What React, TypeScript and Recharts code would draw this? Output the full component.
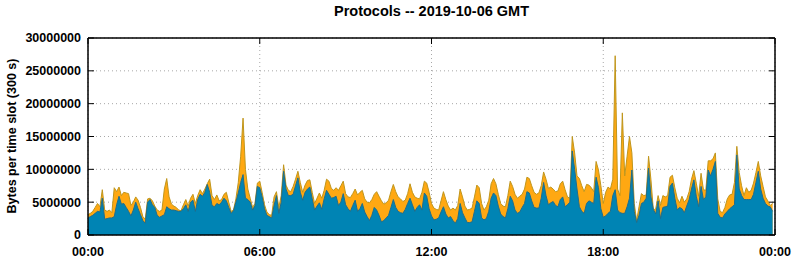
import { Area, AreaChart, CartesianGrid, ReferenceArea, XAxis, YAxis } from "recharts";

// bytes per 300 s slot, in millions; each list covers 6 hours (72 slots)
const totalNight = [
  3.1, 3.3, 3.6, 4.2, 4.8, 4.3, 6.9, 3.8, 3.6, 3.8, 3.4, 7.2,
  6.6, 7.3, 6.0, 6.5, 6.4, 6.3, 4.5, 5.0, 5.8, 5.3, 4.2, 2.8,
  2.4, 5.5, 5.6, 5.2, 4.4, 3.8, 3.6, 3.8, 7.0, 8.6, 5.8, 4.7,
  4.4, 4.2, 3.8, 3.7, 4.6, 5.4, 4.4, 5.6, 6.2, 4.8, 6.0, 6.9,
  6.3, 7.0, 7.8, 8.5, 6.0, 5.4, 6.1, 5.2, 5.4, 6.2, 6.5, 5.0,
  3.6, 3.8, 5.5, 8.0, 12.0, 17.8, 10.0, 7.0, 5.6, 4.2, 4.8, 7.9,
];
const totalMorning = [
  8.2, 6.5, 4.6, 3.5, 3.1, 3.0, 5.8, 6.6, 4.2, 6.0, 10.7, 7.6,
  6.8, 6.6, 7.4, 8.5, 9.7, 8.0, 6.5, 7.6, 8.3, 8.4, 6.5, 4.8,
  5.6, 6.4, 5.6, 6.8, 8.5, 8.2, 7.1, 6.8, 7.2, 6.8, 7.5, 8.2,
  6.3, 5.8, 5.7, 6.3, 7.0, 6.1, 6.5, 6.8, 5.5, 5.0, 4.9, 5.4,
  6.2, 6.6, 5.9, 5.2, 4.7, 4.9, 5.3, 6.6, 7.7, 6.6, 5.8, 5.5,
  5.1, 5.3, 6.3, 7.8, 6.5, 5.8, 5.6, 5.5, 6.5, 8.2, 7.9, 6.5,
];
const totalAfternoon = [
  4.8, 4.1, 3.9, 3.8, 5.2, 6.6, 5.4, 4.4, 3.8, 4.1, 3.8, 4.5,
  7.0, 5.8, 4.4, 3.8, 3.9, 4.1, 5.8, 7.6, 7.2, 4.8, 3.8, 4.3,
  5.3, 7.8, 8.6, 7.8, 6.2, 4.8, 4.4, 4.3, 6.0, 8.2, 7.4, 6.2,
  5.6, 5.9, 6.2, 7.0, 8.8, 8.6, 7.5, 6.5, 6.2, 6.4, 7.5, 9.6,
  8.5, 7.1, 7.3, 7.0, 6.6, 6.7, 7.8, 8.2, 6.9, 5.8, 5.6, 15.0,
  12.5, 9.0, 8.6, 7.5, 6.6, 7.7, 7.6, 7.2, 6.6, 11.2, 9.9, 7.5,
];
const totalEvening = [
  4.8, 6.5, 7.3, 7.0, 8.5, 27.3, 7.0, 6.0, 18.6, 9.0, 12.0, 15.0,
  12.5, 4.8, 2.2, 4.3, 6.3, 6.0, 6.1, 12.0, 8.4, 3.8, 4.0, 6.0,
  4.5, 6.0, 5.8, 6.0, 8.8, 9.1, 7.2, 5.6, 4.9, 5.9, 5.0, 5.5,
  6.6, 8.5, 9.8, 7.9, 5.9, 9.4, 6.9, 6.8, 11.3, 11.3, 11.6, 12.5,
  5.5, 3.6, 3.4, 4.2, 5.5, 6.1, 6.2, 8.0, 13.5, 9.5, 7.5, 6.0,
  7.2, 6.5, 6.8, 7.9, 9.5, 11.2, 9.0, 7.4, 5.8, 5.2, 4.5, 4.8,
];

const innerNight = [
  2.6, 2.8, 3.0, 3.3, 3.6, 3.5, 5.6, 2.4, 2.5, 2.6, 2.6, 2.8,
  4.6, 5.9, 4.7, 4.8, 4.2, 3.6, 2.9, 3.8, 5.0, 4.0, 3.1, 2.2,
  1.8, 5.0, 5.4, 4.6, 4.2, 3.0, 2.7, 2.9, 3.1, 4.3, 4.0, 3.8,
  3.8, 3.7, 3.6, 3.6, 4.0, 4.6, 3.6, 5.0, 5.3, 3.6, 5.4, 6.2,
  5.9, 6.5, 7.7, 6.5, 4.5, 4.3, 4.8, 4.6, 5.0, 5.6, 5.2, 4.2,
  3.3, 3.7, 5.0, 6.4, 8.0, 9.2, 5.6, 5.4, 5.0, 3.8, 4.5, 7.4,
];
const innerMorning = [
  7.2, 5.8, 4.0, 3.0, 2.8, 2.6, 4.5, 6.0, 3.3, 5.0, 9.7, 7.0,
  6.0, 6.0, 6.2, 7.5, 8.7, 6.5, 5.3, 6.5, 7.0, 7.3, 5.5, 3.8,
  4.4, 4.9, 3.9, 5.5, 6.8, 6.2, 5.6, 5.7, 5.9, 4.5, 5.0, 6.3,
  4.6, 4.0, 3.6, 4.5, 5.3, 3.6, 4.0, 4.8, 3.5, 2.8, 2.2, 3.0,
  4.2, 3.8, 3.0, 2.0, 2.2, 2.6, 3.0, 4.2, 5.4, 4.2, 3.6, 3.4,
  3.3, 3.9, 4.8, 5.6, 4.6, 3.6, 4.2, 4.6, 3.8, 6.4, 5.9, 4.0,
];
const innerAfternoon = [
  2.9, 2.3, 2.4, 2.6, 3.5, 4.3, 3.2, 2.6, 2.8, 2.2, 1.8, 2.5,
  4.8, 3.4, 2.6, 1.9, 1.9, 2.0, 3.6, 5.2, 4.8, 2.6, 2.3, 2.5,
  3.6, 5.6, 6.4, 6.0, 4.4, 3.2, 2.8, 2.6, 4.0, 5.9, 5.2, 3.8,
  3.3, 3.5, 4.2, 4.8, 6.6, 6.4, 5.2, 4.2, 4.1, 4.1, 5.6, 8.0,
  6.0, 4.6, 4.9, 5.1, 4.5, 4.3, 5.4, 5.8, 4.3, 4.6, 5.0, 12.8,
  10.0, 7.0, 4.3, 3.6, 3.3, 4.8, 5.2, 5.0, 4.8, 8.8, 7.2, 4.0,
];
const innerEvening = [
  2.7, 2.9, 3.3, 3.6, 6.0, 6.9, 3.8, 3.4, 3.3, 3.3, 4.3, 5.6,
  9.9, 3.6, 1.9, 3.0, 4.8, 5.0, 5.6, 10.2, 5.8, 3.9, 3.2, 5.2,
  2.5, 4.2, 4.3, 4.4, 7.4, 7.9, 5.6, 3.8, 4.2, 4.0, 3.4, 4.4,
  5.4, 7.0, 8.4, 5.9, 4.3, 7.4, 5.4, 5.8, 9.9, 9.0, 10.0, 11.2,
  3.3, 2.7, 2.6, 3.2, 3.6, 4.0, 4.3, 4.6, 12.2, 7.0, 6.0, 5.4,
  5.4, 5.4, 5.4, 6.2, 8.0, 9.7, 7.0, 5.6, 4.8, 4.4, 4.3, 3.6,
];

const xTicks = [0, 360, 720, 1080, 1440];
const xTickLabels = ["00:00", "06:00", "12:00", "18:00", "00:00"];
const yTicks = [0, 5000000, 10000000, 15000000, 20000000, 25000000, 30000000];

const MB = 1000000;
const SLOT_MIN = 5;

const totals = [...totalNight, ...totalMorning, ...totalAfternoon, ...totalEvening];
const inners = [...innerNight, ...innerMorning, ...innerAfternoon, ...innerEvening];
const rows = totals.map((v, i) => ({
  t: i * SLOT_MIN,
  total: v * MB,
  inner: inners[i] * MB,
}));

const FONT = '"Liberation Sans", Arial, Helvetica, sans-serif';
const tickStyle = { fontSize: 12.5, fontWeight: "bold", fill: "#000", fontFamily: FONT };
const noLabel = () => <g />;

export default function App() {
  return (
    <div style={{ position: "absolute", left: 0, top: 0, width: 795, height: 260, background: "#fff" }}>
      <div
        style={{
          position: "absolute",
          left: 88,
          top: 3,
          width: 687,
          textAlign: "center",
          fontFamily: FONT,
          fontWeight: "bold",
          fontSize: 14.5,
          lineHeight: "17px",
        }}
      >
        Protocols -- 2019-10-06 GMT
      </div>
      <div
        style={{
          position: "absolute",
          left: 12,
          top: 136,
          transform: "translate(-50%, -50%) rotate(-90deg)",
          whiteSpace: "nowrap",
          fontFamily: FONT,
          fontWeight: "bold",
          fontSize: 12.5,
        }}
      >
        Bytes per time slot (300 s)
      </div>
      <AreaChart width={795} height={260} data={rows} margin={{ top: 30, right: 12, bottom: 0, left: 0 }}>
        <CartesianGrid stroke="#a8a8a8" strokeDasharray="1 3" />
        <Area
          type="linear"
          dataKey="total"
          stroke="#c0961c"
          strokeWidth={1}
          fill="#ffa812"
          fillOpacity={1}
          dot={false}
          activeDot={false}
          isAnimationActive={false}
        />
        {/* same domains as the main axes; bound here so the mirror axes get drawn */}
        <Area
          type="linear"
          dataKey="inner"
          xAxisId="top"
          yAxisId="right"
          stroke="#1f6d8c"
          strokeWidth={1}
          fill="#0084b4"
          fillOpacity={1}
          dot={false}
          activeDot={false}
          isAnimationActive={false}
        />
        <ReferenceArea x1={0} x2={1440} y1={0} y2={30000000} fill="none" stroke="#000" strokeWidth={1} ifOverflow="visible" />
        <XAxis
          dataKey="t"
          type="number"
          domain={[0, 1440]}
          ticks={xTicks}
          interval={0}
          tickFormatter={(v: number) => xTickLabels[xTicks.indexOf(v)]}
          height={25}
          tickSize={-6}
          tickMargin={18}
          tick={tickStyle}
          axisLine={{ stroke: "#000" }}
          tickLine={{ stroke: "#000" }}
        />
        <XAxis
          xAxisId="top"
          orientation="top"
          dataKey="t"
          type="number"
          domain={[0, 1440]}
          ticks={xTicks}
          interval={0}
          height={8}
          tickSize={-6}
          tick={noLabel}
          axisLine={{ stroke: "#000" }}
          tickLine={{ stroke: "#000" }}
        />
        <YAxis
          domain={[0, 30000000]}
          ticks={yTicks}
          interval={0}
          width={88}
          tickSize={-6}
          tickMargin={13}
          tick={tickStyle}
          tickFormatter={(v: number) => String(v)}
          axisLine={{ stroke: "#000" }}
          tickLine={{ stroke: "#000" }}
        />
        <YAxis
          yAxisId="right"
          orientation="right"
          domain={[0, 30000000]}
          ticks={yTicks}
          interval={0}
          width={8}
          tickSize={-6}
          tick={noLabel}
          axisLine={{ stroke: "#000" }}
          tickLine={{ stroke: "#000" }}
        />
      </AreaChart>
    </div>
  );
}
